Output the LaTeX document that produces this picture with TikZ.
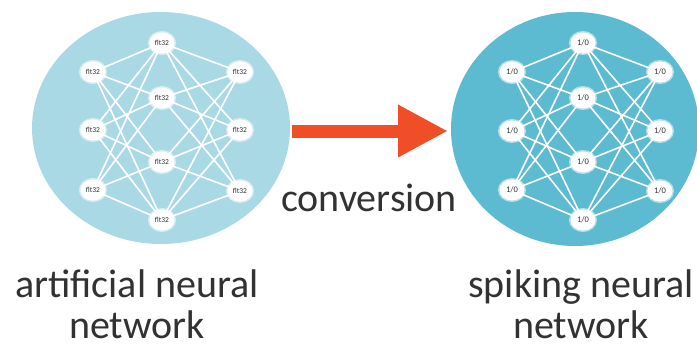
\documentclass[tikz,border=0pt]{standalone}
\usepackage{fontspec}
\setmainfont{Carlito}
\usetikzlibrary{shapes.geometric,arrows.meta}
\definecolor{annfill}{RGB}{170,217,230}
\definecolor{snnfill}{RGB}{92,187,208}
\definecolor{arrowred}{RGB}{240,78,38}
\definecolor{labelgray}{RGB}{50,50,50}
\tikzset{
  neuron/.style={ellipse, fill=white, draw=white, draw opacity=0.55, line width=3pt,
    minimum width=25pt, minimum height=21pt, inner sep=0pt,
    font=\fontsize{7.5}{7.5}\selectfont, text=labelgray},
  synapse/.style={white, line width=1.6pt},
  caption/.style={font=\fontsize{40}{41}\selectfont, text=labelgray, align=center,
    inner sep=0pt},
}
\begin{document}
\begin{tikzpicture}[x=1pt,y=-1pt]
  \useasboundingbox (0,0) rectangle (697,348);
  % backgrounds of the two networks
  \fill[annfill] (161,128) ellipse [x radius=129, y radius=116];
  \fill[snnfill] (575,129) ellipse [x radius=124, y radius=117];

  % artificial network: 3-4-3 fully connected
  \foreach \n/\x/\y in {a1/93/72, a2/93/130, a3/93/190,
                        m1/162/43, m2/162/98, m3/162/162, m4/162/220,
                        b1/240/72, b2/240/130, b3/240/191}
    \coordinate (A\n) at (\x,\y);
  \foreach \l in {a1,a2,a3}
    \foreach \m in {m1,m2,m3,m4}
      \draw[synapse] (A\l) -- (A\m);
  \foreach \m in {m1,m2,m3,m4}
    \foreach \r in {b1,b2,b3}
      \draw[synapse] (A\m) -- (A\r);
  \foreach \n in {a1,a2,a3,m1,m2,m3,m4,b1,b2,b3}
    \node[neuron] (ann-\n) at (A\n) {flt32};

  % spiking network: same topology
  \foreach \n/\x/\y in {a1/512/72, a2/512/131, a3/512/190,
                        m1/583/43, m2/583/98, m3/583/162, m4/583/220,
                        b1/660/72, b2/660/131, b3/660/191}
    \coordinate (S\n) at (\x,\y);
  \foreach \l in {a1,a2,a3}
    \foreach \m in {m1,m2,m3,m4}
      \draw[synapse] (S\l) -- (S\m);
  \foreach \m in {m1,m2,m3,m4}
    \foreach \r in {b1,b2,b3}
      \draw[synapse] (S\m) -- (S\r);
  \foreach \n in {a1,a2,a3,m1,m2,m3,m4,b1,b2,b3}
    \node[neuron, font=\fontsize{8.5}{8.5}\selectfont] (snn-\n) at (S\n) {1/0};

  % conversion arrow
  \coordinate (arrowstart) at (292,131);
  \coordinate (arrowend) at (448,131);
  \draw[arrowred, line width=13pt,
        -{Triangle[length=50pt, width=49pt]}] (arrowstart) -- (arrowend);
  \node[caption] (conv) at (369,198) {conversion};

  % captions
  \node[caption] (annlabel) at (137,304) {artificial neural\\network};
  \node[caption] (snnlabel) at (581,304) {spiking neural\\network};
\end{tikzpicture}
\end{document}
